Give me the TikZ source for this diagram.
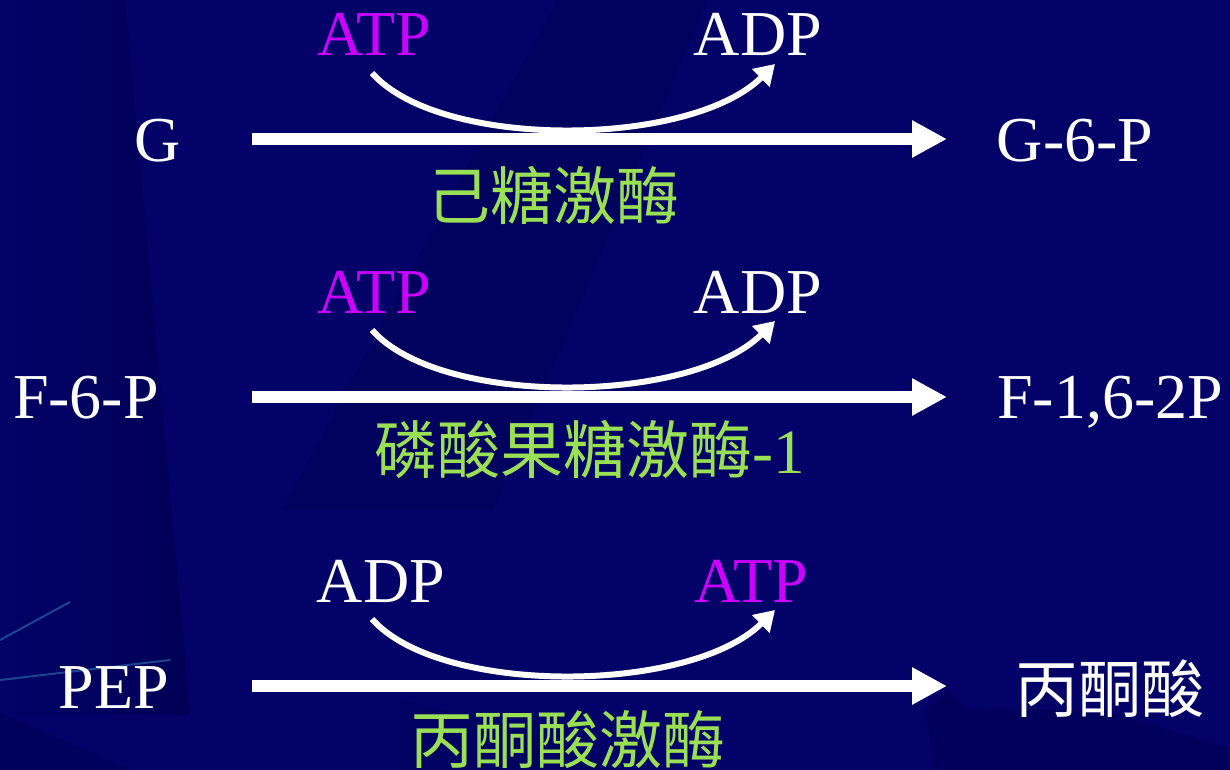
\documentclass[tikz,border=0pt]{standalone}
\usepackage{fontspec}
\setmainfont{Liberation Serif}
\newfontfamily\cjk{Noto Sans CJK SC}
\usetikzlibrary{arrows.meta}
\definecolor{bgnavy}{RGB}{2,2,104}
\definecolor{bgdark}{RGB}{0,0,84}
\definecolor{bgdarker}{RGB}{0,0,86}
\definecolor{streak}{RGB}{35,85,160}
\definecolor{atpmag}{RGB}{204,0,255}
\definecolor{enzgreen}{RGB}{153,224,85}
\begin{document}
\begin{tikzpicture}[x=1pt,y=-1pt,
  lat/.style={font=\fontsize{64}{70}\selectfont, inner sep=0pt, anchor=base},
  enz/.style={font=\fontsize{63}{70}\selectfont\cjk, inner sep=0pt, anchor=center, text=enzgreen},
  mainarrow/.style={line width=12pt, white, -{Triangle[length=35pt,width=35pt]}},
  curvearrow/.style={line width=6pt, white, -{Triangle[length=20pt,width=24pt]}}]
\useasboundingbox (0,0) rectangle (1230,770);
% background
\fill[bgnavy] (0,0) rectangle (1230,770);
\shade[left color=bgnavy, right color=bgdarker] (0,0) -- (125,0) -- (190,715) -- (0,715) -- cycle;
\fill[bgdark, opacity=0.45] (557,0) -- (707,0) -- (493,510) -- (282,510) -- cycle;
\fill[bgdark, opacity=0.6] (948,690) -- (965,708) -- (1100,710) -- (1230,748) -- (1230,770) -- (935,770) -- (925,712) -- cycle;
\fill[bgdark, opacity=0.5] (0,712) -- (130,770) -- (0,770) -- cycle;
\fill[bgdark, opacity=0.35] (400,700) -- (560,740) -- (620,770) -- (400,770) -- cycle;
\draw[streak, line width=2pt, opacity=0.8] (0,640) -- (70,602);
\draw[streak, line width=2pt, opacity=0.8] (0,680) -- (170,660);
% row 1
\node[lat, text=atpmag] (atpA) at (374,56) {ATP};
\node[lat, text=white] (adpA) at (758,56) {ADP};
\node[lat, text=white] (G) at (158,161) {G};
\node[lat, text=white] (G6P) at (1075,161) {G-6-P};
\node[enz] (hk) at (553,195) {己糖激酶};
\coordinate (s1) at (252,139);
\coordinate (e1) at (947,139);
\coordinate (c1s) at (372,73);
\coordinate (c1e) at (775,64);
\draw[mainarrow] (s1) -- (e1);
\draw[curvearrow] (c1s) .. controls (440,150) and (690,148) .. (c1e);
% row 2
\node[lat, text=atpmag] (atpB) at (374,313) {ATP};
\node[lat, text=white] (adpB) at (758,313) {ADP};
\node[lat, text=white] (F6P) at (86,418) {F-6-P};
\node[lat, text=white] (F16P) at (1110,418) {F-1,6-2P};
\node[enz] (pfk) at (590,450) {磷酸果糖激酶\fontspec{Liberation Serif}-1};
\coordinate (s2) at (252,397);
\coordinate (e2) at (947,397);
\coordinate (c2s) at (372,330);
\coordinate (c2e) at (775,321);
\draw[mainarrow] (s2) -- (e2);
\draw[curvearrow] (c2s) .. controls (440,407) and (690,405) .. (c2e);
% row 3
\node[lat, text=white] (adpC) at (381,602) {ADP};
\node[lat, text=atpmag] (atpC) at (751,602) {ATP};
\node[lat, text=white] (PEP) at (114,708) {PEP};
\node[enz, text=white] (pyr) at (1110,689) {丙酮酸};
\node[enz] (pk) at (568,740) {丙酮酸激酶};
\coordinate (s3) at (252,686);
\coordinate (e3) at (947,686);
\coordinate (c3s) at (372,619);
\coordinate (c3e) at (775,610);
\draw[mainarrow] (s3) -- (e3);
\draw[curvearrow] (c3s) .. controls (440,696) and (690,694) .. (c3e);
\end{tikzpicture}
\end{document}
